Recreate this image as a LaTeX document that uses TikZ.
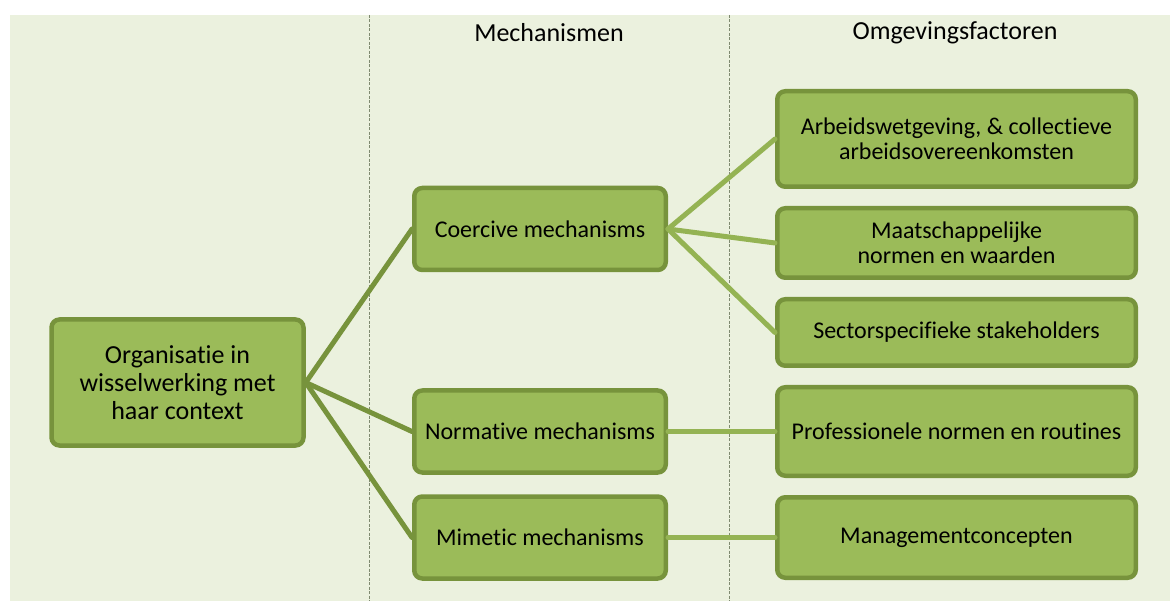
\documentclass[tikz,border=0pt]{standalone}
\usepackage{fontspec}
\setmainfont{Carlito}[Ligatures={NoCommon}]
\definecolor{bgcol}{HTML}{EBF1DE}
\definecolor{boxfill}{HTML}{9BBB59}
\definecolor{boxline}{HTML}{77933C}
\definecolor{divcol}{HTML}{7F8A70}
\begin{document}
\begin{tikzpicture}[x=1pt, y=-1pt, line join=round, line cap=round,
  box/.style={draw=boxline, fill=boxfill, line width=4.5pt, rounded corners=8pt,
    align=center, inner sep=0pt, font=\fontsize{24}{25}\selectfont},
  mechbox/.style={box, minimum width=251.5pt, minimum height=82pt},
  factorbox/.style={box, minimum width=358.5pt},
  header/.style={font=\fontsize{26}{27}\selectfont},
  divider/.style={divcol, line width=1pt, dash pattern=on 3pt off 1.5pt, line cap=butt},
  link/.style={boxline, line width=5pt},
  sublink/.style={boxfill!80!boxline, line width=5pt}]
\useasboundingbox (0,0) rectangle (1170,601);
\fill[bgcol] (10,15) rectangle (1170,601);
\draw[divider] (369,15) -- (369,601);
\draw[divider] (729,15) -- (729,601);
% kolomkoppen
\node[header] (hmech) at (549,33) {Mechanismen};
\node[header] (hfact) at (955,33) {Omgevingsfactoren};
% organisatie
\node[box, minimum width=252pt, minimum height=126pt, font=\fontsize{26}{28}\selectfont]
  (org) at (177.5,382.5) {Organisatie in\\wisselwerking met\\haar context};
% mechanismen
\node[mechbox] (coer) at (540,229) {Coercive mechanisms};
\node[mechbox] (norm) at (540,431.5) {Normative mechanisms};
\node[mechbox] (mime) at (540,537.5) {Mimetic mechanisms};
% omgevingsfactoren
\node[factorbox, minimum height=95.5pt] (arb) at (956.5,139) {Arbeidswetgeving, \& collectieve\\arbeidsovereenkomsten};
\node[factorbox, minimum height=69.5pt] (maat) at (956.5,243) {Maatschappelijke\\normen en waarden};
\node[factorbox, minimum height=66.5pt] (sect) at (956.5,332.5) {Sectorspecifieke stakeholders};
\node[factorbox, minimum height=88.5pt] (prof) at (956.5,431.5) {Professionele normen en routines};
\node[factorbox, minimum height=80.5pt] (mgmt) at (956.5,537.5) {Managementconcepten};
% verbindingen
\draw[link] (org.east) -- (coer.west);
\draw[link] (org.east) -- (norm.west);
\draw[link] (org.east) -- (mime.west);
\draw[sublink] (coer.east) -- (arb.west);
\draw[sublink] (coer.east) -- (maat.west);
\draw[sublink] (coer.east) -- (sect.west);
\draw[sublink] (norm.east) -- (prof.west);
\draw[sublink] (mime.east) -- (mgmt.west);
\end{tikzpicture}
\end{document}
